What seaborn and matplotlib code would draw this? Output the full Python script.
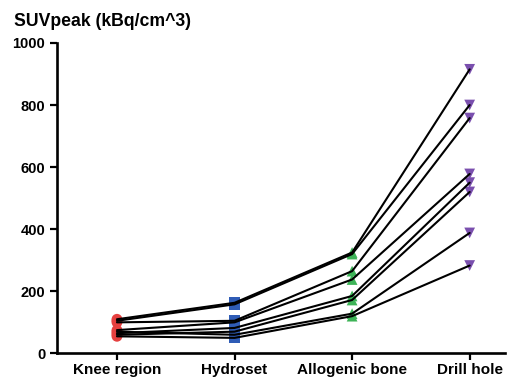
import pandas as pd
import matplotlib.pyplot as plt
import seaborn as sns

sns.set_style("ticks")
plt.rcParams['font.family'] = ['Liberation Sans', 'DejaVu Sans']
plt.rcParams['font.weight'] = 'bold'
plt.rcParams['text.color'] = 'black'
plt.rcParams['xtick.color'] = 'black'
plt.rcParams['ytick.color'] = 'black'
plt.rcParams['axes.edgecolor'] = 'black'

# Regions and SUVpeak values per patient
regions = ['Knee region', 'Hydroset', 'Allogenic bone', 'Drill hole']
knee = [110, 105, 100, 75, 65, 60, 70, 55]
hydroset = [163, 158, 105, 100, 82, 70, 60, 50]
allogenic = [325, 320, 265, 238, 185, 172, 128, 120]
drill_hole = [915, 800, 758, 578, 550, 520, 388, 283]

colors = ['#E5403F', '#2F5CB6', '#3DB357', '#7A4FAE']
markers = ['o', 's', '^', 'v']

rows = []
for region, vals in zip(regions, [knee, hydroset, allogenic, drill_hole]):
    for pid, v in enumerate(vals):
        rows.append({'patient': pid, 'region': region, 'suv': v})
df = pd.DataFrame(rows)
df['x'] = df['region'].map({r: i for i, r in enumerate(regions)})

fig = plt.figure(figsize=(5.09, 3.80), dpi=100)
ax = fig.add_axes([0.112, 0.07, 0.88, 0.817])

sns.scatterplot(data=df, x='x', y='suv', hue='region', style='region',
                palette=colors, markers=markers, s=60, linewidth=0,
                legend=False, ax=ax, zorder=2)
sns.lineplot(data=df, x='x', y='suv', units='patient', estimator=None,
             color='black', linewidth=1.5, ax=ax, zorder=3)

ax.set_xlim(-0.51, 3.3)
ax.set_ylim(0, 1000)
ax.set_xticks(range(len(regions)))
ax.set_xticklabels(regions, fontsize=11, fontweight='bold')
ax.set_yticks([0, 200, 400, 600, 800, 1000])
ax.tick_params(axis='y', labelsize=10.5, width=1.6, length=5)
ax.tick_params(axis='x', width=1.6, length=5, pad=2)
for lbl in ax.get_yticklabels():
    lbl.set_fontweight('bold')
ax.set_xlabel('')
ax.set_ylabel('')
sns.despine(ax=ax)
for sp in ['left', 'bottom']:
    ax.spines[sp].set_linewidth(1.9)

fig.text(0.028, 0.965, 'SUVpeak (kBq/cm^3)', fontsize=12.7, fontweight='bold',
         va='top', ha='left')

fig.savefig('out.png', dpi=100)
